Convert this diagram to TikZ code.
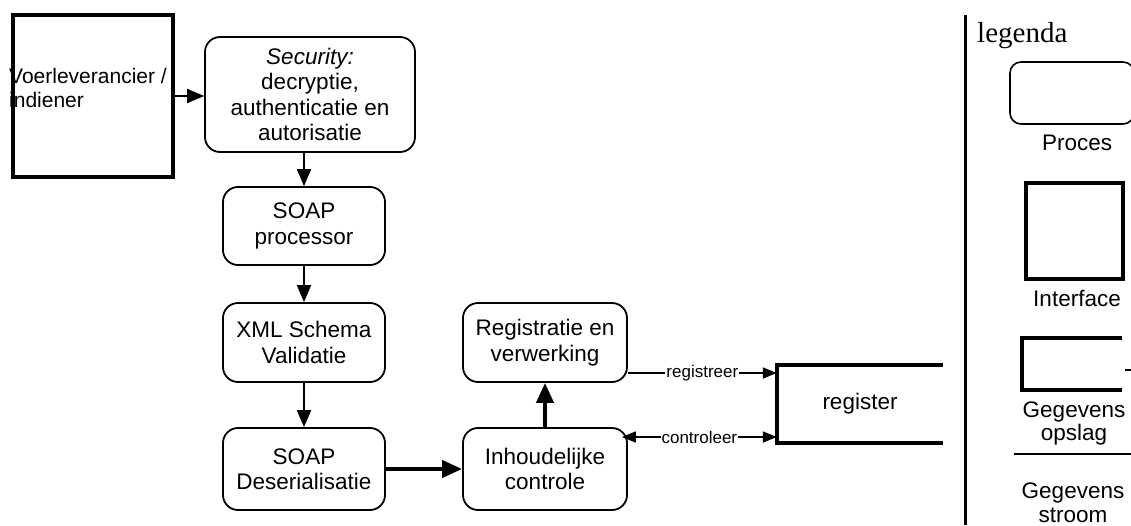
\documentclass[tikz,border=0pt]{standalone}
\usepackage{fontspec}
\setmainfont{Liberation Sans}
\newfontfamily\legendfont{Liberation Serif}
\usetikzlibrary{arrows.meta}
\begin{document}
\begin{tikzpicture}[x=1pt,y=-1pt,
  txt/.style={font=\fontsize{22.5}{25.5}\selectfont},
  proc/.style={draw,line width=1.8pt,rounded corners=15pt,align=center,txt,inner sep=0pt},
  iface/.style={draw,line width=3.2pt,inner sep=0pt},
  flow/.style={line width=2pt,-{Triangle[length=17pt,width=14pt]}},
  heavy/.style={line width=4pt,-{Triangle[length=20pt,width=17pt]}},
  store flow/.style={line width=1.8pt,-{Triangle[length=14pt,width=11pt]}},
  flowlabel/.style={fill=white,inner sep=1pt,font=\fontsize{17}{19}\selectfont},
  legtxt/.style={font=\fontsize{22.5}{23.5}\selectfont,align=center,inner sep=0pt}]
\useasboundingbox (0,0) rectangle (1131,525);
\clip (0,0) rectangle (1131,525);

% external party
\node[iface,minimum width=160pt,minimum height=162pt] (vl) at (93,96) {};
\node[font=\fontsize{21}{24}\selectfont,anchor=west,align=left,inner sep=0pt] (vltext) at (9,88) {Voerleverancier /\\indiener};

% processing chain
\node[proc,minimum width=210pt,minimum height=115pt] (sec) at (310,94.5)
  {\textit{Security:}\\decryptie,\\authenticatie en\\autorisatie};
\node[proc,minimum width=162pt,minimum height=78pt] (soap) at (304,226) {SOAP\\processor};
\node[proc,minimum width=162pt,minimum height=79pt] (xml) at (304,342.5) {XML Schema\\Validatie};
\node[proc,minimum width=162pt,minimum height=82pt] (des) at (304,469) {SOAP\\Deserialisatie};
\node[proc,minimum width=164pt,minimum height=82pt] (inh) at (545,469) {Inhoudelijke\\controle};
\node[proc,minimum width=164pt,minimum height=79pt] (reg) at (545,342.5) {Registratie en\\verwerking};

% data store
\node[txt,minimum width=166pt,minimum height=78pt,inner sep=0pt] (store) at (860,404) {register};
\draw[line width=3.5pt] (store.north east) -- (store.north west) -- (store.south west) -- (store.south east);

% connectors
\draw[flow] (vl.east) -- (vl.east -| sec.west);
\draw[flow] (soap.north |- sec.south) -- (soap.north);
\draw[flow] (soap) -- (xml);
\draw[flow] (xml) -- (des);
\draw[heavy] (des.east) -- (inh.west);
\draw[heavy] (inh.north) -- (reg.south);
\draw[store flow] ([yshift=-30.5pt]reg.east) -- node[flowlabel] {registreer} ([yshift=-30.5pt]reg.east -| store.west);
\draw[store flow,{Triangle[length=14pt,width=11pt]}-{Triangle[length=14pt,width=11pt]}]
  ([xshift=-6pt,yshift=32pt]inh.east) -- node[flowlabel] {controleer} ([yshift=32pt]inh.east -| store.west);

% legend
\draw[line width=3pt] (965,15) -- (965,525);
\node[anchor=base west,inner sep=0pt,font=\legendfont\fontsize{29}{32}\selectfont] (legtitle) at (977,42) {legenda};
\node[draw,line width=1.6pt,rounded corners=11pt,minimum width=124pt,minimum height=62pt,inner sep=0pt] (legproc) at (1072,93) {};
\node[legtxt,anchor=base] (legproclbl) at (1077,150) {Proces};
\node[iface,minimum width=97pt,minimum height=96pt] (legif) at (1074.5,231) {};
\node[legtxt,anchor=base] (legiflbl) at (1077,306) {Interface};
\draw[line width=3.2pt] (1122,338) -- (1022,338) -- (1022,390) -- (1122,390);
\draw[line width=1.2pt] (1125,370) -- (1131,370);
\node[legtxt,anchor=base] (legstlbl) at (1074,417) {Gegevens};
\node[legtxt,anchor=base] (legstlbl2) at (1074,440) {opslag};
\draw[line width=2pt] (1014,454) -- (1131,454);
\node[legtxt,anchor=base] (legfllbl) at (1073,498) {Gegevens};
\node[legtxt,anchor=base] (legfllbl2) at (1073,522) {stroom};
\end{tikzpicture}
\end{document}
